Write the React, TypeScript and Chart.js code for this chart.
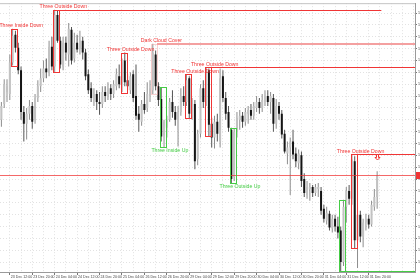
import React, { useEffect, useRef } from 'react';
import { Chart, registerables } from 'chart.js';

Chart.register(...registerables);

// ---- time axis ----
const SLOTS = 148; // hourly slots incl. empty chart shift on the right
const FIRST_LABEL = 3;
const LABEL_EVERY = 8;
const timeLabels = [
  '23 Dec 12:00', '23 Dec 20:00', '24 Dec 04:00', '24 Dec 12:00', '24 Dec 20:00', '25 Dec 04:00',
  '26 Dec 12:00', '26 Dec 20:00', '29 Dec 04:00', '29 Dec 12:00', '29 Dec 20:00', '30 Dec 04:00',
  '30 Dec 12:00', '30 Dec 20:00', '31 Dec 04:00', '31 Dec 12:00', '31 Dec 20:00',
];

// ---- price axis ----
const priceMin = 1.2028;
const priceMax = 1.2300;
const priceTicks = [
  1.2290, 1.2278, 1.2266, 1.2254, 1.2242, 1.2230, 1.2218, 1.2206, 1.2194, 1.2182, 1.2170,
  1.2158, 1.2146, 1.2134, 1.2122, 1.2110, 1.2098, 1.2086, 1.2074, 1.2062, 1.2050, 1.2038,
];

// ---- candles (H1) ----
const opens = [
  1.2182, 1.2198, 1.2210, 1.2208, 1.2240, 1.2268, 1.2255, 1.2232, 1.2190, 1.2178,
  1.2188, 1.2196, 1.2182, 1.2204, 1.2216, 1.2224, 1.2234, 1.2230, 1.2256, 1.2236,
  1.2288, 1.2262, 1.2236, 1.2260, 1.2248, 1.2273, 1.2244, 1.2260, 1.2254, 1.2262,
  1.2250, 1.2228, 1.2214, 1.2202, 1.2208, 1.2200, 1.2198, 1.2210, 1.2206, 1.2214,
  1.2208, 1.2216, 1.2226, 1.2218, 1.2242, 1.2222, 1.2212, 1.2228, 1.2206, 1.2188,
  1.2180, 1.2198, 1.2194, 1.2206, 1.2212, 1.2248, 1.2216, 1.2203, 1.2166, 1.2174,
  1.2182, 1.2200, 1.2190, 1.2172, 1.2190, 1.2206, 1.2200, 1.2224, 1.2186, 1.2198,
  1.2142, 1.2168, 1.2214, 1.2200, 1.2232, 1.2178, 1.2164, 1.2180, 1.2160, 1.2226,
  1.2204, 1.2190, 1.2172, 1.2124, 1.2170, 1.2182, 1.2186, 1.2180, 1.2188, 1.2192,
  1.2186, 1.2194, 1.2200, 1.2194, 1.2200, 1.2206, 1.2200, 1.2204, 1.2178, 1.2196,
  1.2188, 1.2168, 1.2148, 1.2154, 1.2160, 1.2148, 1.2138, 1.2146, 1.2122, 1.2106,
  1.2112, 1.2114, 1.2108, 1.2112, 1.2110, 1.2092, 1.2080, 1.2087, 1.2072, 1.2082,
  1.2074, 1.2070, 1.2038, 1.2094, 1.2110, 1.2102, 1.2140, 1.2060, 1.2086, 1.2064,
  1.2078, 1.2082, 1.2076, 1.2094, 1.2104,
];
const highs = [
  1.2200, 1.2223, 1.2223, 1.2248, 1.2274, 1.2272, 1.2260, 1.2236, 1.2196, 1.2194,
  1.2202, 1.2200, 1.2208, 1.2222, 1.2234, 1.2242, 1.2244, 1.2262, 1.2266, 1.2293,
  1.2292, 1.2266, 1.2266, 1.2266, 1.2280, 1.2276, 1.2270, 1.2268, 1.2272, 1.2266,
  1.2254, 1.2233, 1.2220, 1.2214, 1.2212, 1.2210, 1.2216, 1.2216, 1.2220, 1.2218,
  1.2222, 1.2234, 1.2238, 1.2244, 1.2250, 1.2228, 1.2230, 1.2232, 1.2238, 1.2196,
  1.2202, 1.2210, 1.2220, 1.2222, 1.2259, 1.2252, 1.2220, 1.2215, 1.2182, 1.2186,
  1.2204, 1.2212, 1.2196, 1.2196, 1.2214, 1.2216, 1.2228, 1.2226, 1.2204, 1.2202,
  1.2172, 1.2218, 1.2222, 1.2235, 1.2234, 1.2184, 1.2186, 1.2188, 1.2234, 1.2232,
  1.2210, 1.2196, 1.2174, 1.2173, 1.2190, 1.2192, 1.2190, 1.2194, 1.2196, 1.2198,
  1.2200, 1.2206, 1.2204, 1.2208, 1.2212, 1.2212, 1.2210, 1.2208, 1.2203, 1.2200,
  1.2192, 1.2172, 1.2160, 1.2164, 1.2172, 1.2154, 1.2152, 1.2150, 1.2128, 1.2120,
  1.2118, 1.2116, 1.2117, 1.2118, 1.2114, 1.2096, 1.2094, 1.2090, 1.2086, 1.2086,
  1.2084, 1.2074, 1.2101, 1.2114, 1.2116, 1.2147, 1.2145, 1.2094, 1.2090, 1.2082,
  1.2087, 1.2086, 1.2100, 1.2112, 1.2130,
];
const lows = [
  1.2175, 1.2194, 1.2200, 1.2202, 1.2237, 1.2250, 1.2228, 1.2182, 1.2160, 1.2162,
  1.2182, 1.2173, 1.2178, 1.2200, 1.2210, 1.2220, 1.2224, 1.2226, 1.2232, 1.2230,
  1.2260, 1.2234, 1.2232, 1.2242, 1.2236, 1.2238, 1.2240, 1.2250, 1.2248, 1.2243,
  1.2222, 1.2208, 1.2200, 1.2196, 1.2192, 1.2187, 1.2194, 1.2200, 1.2202, 1.2202,
  1.2204, 1.2212, 1.2214, 1.2210, 1.2216, 1.2212, 1.2208, 1.2200, 1.2182, 1.2170,
  1.2176, 1.2188, 1.2190, 1.2200, 1.2208, 1.2212, 1.2196, 1.2160, 1.2154, 1.2164,
  1.2180, 1.2184, 1.2176, 1.2155, 1.2186, 1.2196, 1.2196, 1.2183, 1.2182, 1.2132,
  1.2136, 1.2164, 1.2194, 1.2196, 1.2165, 1.2154, 1.2153, 1.2160, 1.2154, 1.2200,
  1.2182, 1.2170, 1.2118, 1.2120, 1.2164, 1.2172, 1.2174, 1.2176, 1.2178, 1.2182,
  1.2182, 1.2190, 1.2188, 1.2190, 1.2196, 1.2196, 1.2188, 1.2170, 1.2173, 1.2182,
  1.2163, 1.2148, 1.2137, 1.2106, 1.2142, 1.2134, 1.2132, 1.2114, 1.2104, 1.2102,
  1.2100, 1.2104, 1.2105, 1.2104, 1.2086, 1.2078, 1.2076, 1.2070, 1.2068, 1.2069,
  1.2062, 1.2029, 1.2034, 1.2078, 1.2096, 1.2096, 1.2052, 1.2032, 1.2058, 1.2053,
  1.2070, 1.2072, 1.2074, 1.2090, 1.2092,
];
const closes = [
  1.2196, 1.2218, 1.2216, 1.2240, 1.2267, 1.2255, 1.2232, 1.2190, 1.2178, 1.2188,
  1.2196, 1.2180, 1.2204, 1.2216, 1.2224, 1.2234, 1.2230, 1.2256, 1.2236, 1.2288,
  1.2262, 1.2238, 1.2260, 1.2250, 1.2274, 1.2242, 1.2260, 1.2253, 1.2262, 1.2250,
  1.2226, 1.2212, 1.2204, 1.2208, 1.2200, 1.2198, 1.2210, 1.2206, 1.2214, 1.2208,
  1.2218, 1.2228, 1.2218, 1.2240, 1.2220, 1.2216, 1.2226, 1.2204, 1.2186, 1.2182,
  1.2198, 1.2192, 1.2208, 1.2214, 1.2250, 1.2216, 1.2202, 1.2165, 1.2180, 1.2182,
  1.2200, 1.2190, 1.2182, 1.2190, 1.2206, 1.2200, 1.2222, 1.2188, 1.2198, 1.2140,
  1.2168, 1.2214, 1.2200, 1.2232, 1.2177, 1.2164, 1.2180, 1.2168, 1.2224, 1.2204,
  1.2188, 1.2174, 1.2122, 1.2170, 1.2184, 1.2186, 1.2180, 1.2190, 1.2192, 1.2186,
  1.2196, 1.2200, 1.2194, 1.2202, 1.2206, 1.2200, 1.2206, 1.2178, 1.2196, 1.2188,
  1.2167, 1.2150, 1.2154, 1.2160, 1.2147, 1.2140, 1.2148, 1.2120, 1.2108, 1.2114,
  1.2114, 1.2108, 1.2114, 1.2114, 1.2090, 1.2082, 1.2088, 1.2073, 1.2082, 1.2074,
  1.2068, 1.2038, 1.2094, 1.2110, 1.2102, 1.2142, 1.2060, 1.2086, 1.2064, 1.2078,
  1.2082, 1.2076, 1.2096, 1.2104, 1.2126,
];

// ---- detected patterns ----
const patternNames = [
  'Three Inside Down', 'Three Outside Down', 'Three Outside Down', 'Dark Cloud Cover', 'Three Inside Up',
  'Three Outside Down', 'Three Outside Down', 'Three Outside Up', 'Three Outside Up', 'Three Outside Down',
];
const patternStart = [4, 19, 43, 54, 57, 66, 73, 82, 121, 125];
const patternEnd = [5, 20, 44, 55, 58, 67, 74, 83, 122, 126];
const patternBullish = [false, false, false, false, true, false, false, true, true, false];
const patternLineEnd = [0, 136, 0, 148, 0, 0, 148, 0, 148, 148]; // 0 = no level line

// sell arrow
const arrowIndex = 134;
const arrowPrice = 1.2144;

const RED = '#f03535';
const PINK = '#f4a0a0';
const GREEN = '#46cc46';

const xLabels = Array.from({ length: SLOTS }, (_, i) => {
  const k = (i - FIRST_LABEL) / LABEL_EVERY;
  return Number.isInteger(k) && k >= 0 && k < timeLabels.length ? ' ' + timeLabels[k] : '';
});
const isBull = opens.map((o, i) => closes[i] >= o);

const patternPlugin = {
  id: 'patterns',
  afterDatasetsDraw(chart: any) {
    const { ctx, chartArea: a, scales } = chart;
    const xs = scales.x;
    const ys = scales.y;
    const slot = xs.getPixelForValue(1) - xs.getPixelForValue(0);
    const left = (i: number) => xs.getPixelForValue(i) - slot / 2;
    const crisp = (v: number) => Math.round(v) + 0.5;

    ctx.save();
    ctx.setLineDash([]);
    // top frame
    ctx.strokeStyle = '#c4c4c4';
    ctx.lineWidth = 1;
    ctx.beginPath();
    ctx.moveTo(a.left, a.top + 0.5);
    ctx.lineTo(a.right, a.top + 0.5);
    ctx.stroke();

    ctx.beginPath();
    ctx.rect(a.left, a.top, a.right - a.left, a.bottom - a.top);
    ctx.clip();

    // bid line
    const bid = closes[closes.length - 1];
    const by = crisp(ys.getPixelForValue(bid));
    ctx.strokeStyle = RED;
    ctx.globalAlpha = 0.75;
    ctx.beginPath();
    ctx.moveTo(a.left, by);
    ctx.lineTo(a.right, by);
    ctx.stroke();
    ctx.globalAlpha = 1;

    patternNames.forEach((name, k) => {
      const s = patternStart[k];
      const e = patternEnd[k];
      let hi = -Infinity;
      let lo = Infinity;
      for (let i = s; i <= e; i++) {
        hi = Math.max(hi, highs[i]);
        lo = Math.min(lo, lows[i]);
      }
      const bull = patternBullish[k];
      const dcc = name === 'Dark Cloud Cover';
      const x0 = left(s);
      const x1 = left(e + 1);
      const y0 = ys.getPixelForValue(hi);
      const y1 = ys.getPixelForValue(lo);

      ctx.lineWidth = 1;
      ctx.strokeStyle = bull ? GREEN : dcc ? PINK : RED;
      ctx.setLineDash(dcc ? [1, 1] : []);
      ctx.strokeRect(crisp(x0), crisp(y0), Math.round(x1 - x0), Math.round(y1 - y0));
      ctx.setLineDash([]);

      const le = patternLineEnd[k];
      if (le > 0) {
        const ly = bull ? y1 : y0;
        ctx.strokeStyle = dcc ? PINK : bull ? GREEN : RED;
        ctx.lineWidth = dcc ? 2 : 1;
        const yy = dcc ? Math.round(ly) : crisp(ly);
        ctx.beginPath();
        ctx.moveTo(x1, yy);
        ctx.lineTo(Math.min(left(le), a.right), yy);
        ctx.stroke();
      }

      ctx.font = '5.2px "Liberation Sans", Arial, sans-serif';
      ctx.textAlign = 'center';
      ctx.fillStyle = bull ? GREEN : RED;
      if (bull) {
        ctx.textBaseline = 'top';
        ctx.fillText(name, x0 + 10, y1 + 1);
      } else {
        ctx.textBaseline = 'bottom';
        ctx.fillText(name, x0 + 10, y0 - 0.5);
      }
    });

    // sell arrow
    const ax = Math.round(xs.getPixelForValue(arrowIndex)) + 0.5;
    const ay = Math.round(ys.getPixelForValue(arrowPrice)) + 0.5;
    ctx.beginPath();
    ctx.moveTo(ax - 1, ay - 3);
    ctx.lineTo(ax + 1, ay - 3);
    ctx.lineTo(ax + 1, ay);
    ctx.lineTo(ax + 2.5, ay);
    ctx.lineTo(ax, ay + 2.5);
    ctx.lineTo(ax - 2.5, ay);
    ctx.lineTo(ax - 1, ay);
    ctx.closePath();
    ctx.fillStyle = '#ffffff';
    ctx.fill();
    ctx.strokeStyle = RED;
    ctx.lineWidth = 1;
    ctx.stroke();
    ctx.restore();

    // bid marker on the price scale
    ctx.save();
    ctx.fillStyle = RED;
    ctx.fillRect(a.right + 1, by - 3.5, 6, 7);
    ctx.restore();
  },
};

export default function App() {
  const ref = useRef<HTMLCanvasElement>(null);

  useEffect(() => {
    if (!ref.current) return;
    const chart = new Chart(ref.current, {
      type: 'bar',
      data: {
        labels: xLabels,
        datasets: [
          {
            label: 'body',
            data: opens.map((o, i) => [o, closes[i]]) as any,
            backgroundColor: isBull.map((b) => (b ? '#c2c2c2' : '#151515')),
            barThickness: 2,
            grouped: false,
            minBarLength: 1,
            inflateAmount: 0,
            borderWidth: 0,
            order: 0,
          } as any,
          {
            label: 'wick',
            data: lows.map((l, i) => [l, highs[i]]) as any,
            backgroundColor: isBull.map((b) => (b ? '#8e8e8e' : '#555555')),
            barThickness: 1,
            grouped: false,
            inflateAmount: 0,
            borderWidth: 0,
            order: 1,
          } as any,
        ],
      },
      options: {
        animation: false,
        responsive: false,
        devicePixelRatio: 1,
        events: [],
        layout: { padding: 0, autoPadding: false } as any,
        plugins: { legend: { display: false }, tooltip: { enabled: false } },
        scales: {
          x: {
            type: 'category',
            offset: true,
            grid: {
              offset: false,
              color: (c: any) => (c.index % 4 === 3 ? '#e2e2e2' : 'rgba(0,0,0,0)'),
              tickColor: (c: any) =>
                c.index % LABEL_EVERY === FIRST_LABEL && c.index < FIRST_LABEL + LABEL_EVERY * timeLabels.length
                  ? '#777'
                  : 'rgba(0,0,0,0)',
              tickLength: 3,
              lineWidth: 1,
            },
            border: { display: true, color: '#9a9a9a', dash: [1, 2] },
            ticks: {
              autoSkip: false,
              maxRotation: 0,
              minRotation: 0,
              align: 'start',
              padding: 0,
              color: '#444',
              font: { size: 3.6, family: '"Liberation Sans", Arial, sans-serif' },
            },
            afterFit: (s: any) => {
              s.height = 8;
            },
          } as any,
          y: {
            type: 'linear',
            position: 'right',
            min: priceMin,
            max: priceMax,
            grid: { color: '#e2e2e2', tickColor: '#777', tickLength: 2, lineWidth: 1 },
            border: { display: true, color: '#9a9a9a', dash: [1, 2] },
            ticks: {
              padding: 1,
              color: '#444',
              font: { size: 3.6, family: '"Liberation Sans", Arial, sans-serif' },
              callback: (v: any) => Number(v).toFixed(4),
            },
            afterBuildTicks: (s: any) => {
              s.ticks = priceTicks.map((v) => ({ value: v }));
            },
            afterFit: (s: any) => {
              s.width = 5;
            },
          } as any,
        },
      },
      plugins: [patternPlugin],
    });
    return () => chart.destroy();
  }, []);

  return (
    <div style={{ position: 'fixed', left: 0, top: 0, width: 420, height: 280, background: '#fff' }}>
      <canvas ref={ref} width={420} height={280} style={{ display: 'block', width: 420, height: 280 }} />
    </div>
  );
}
